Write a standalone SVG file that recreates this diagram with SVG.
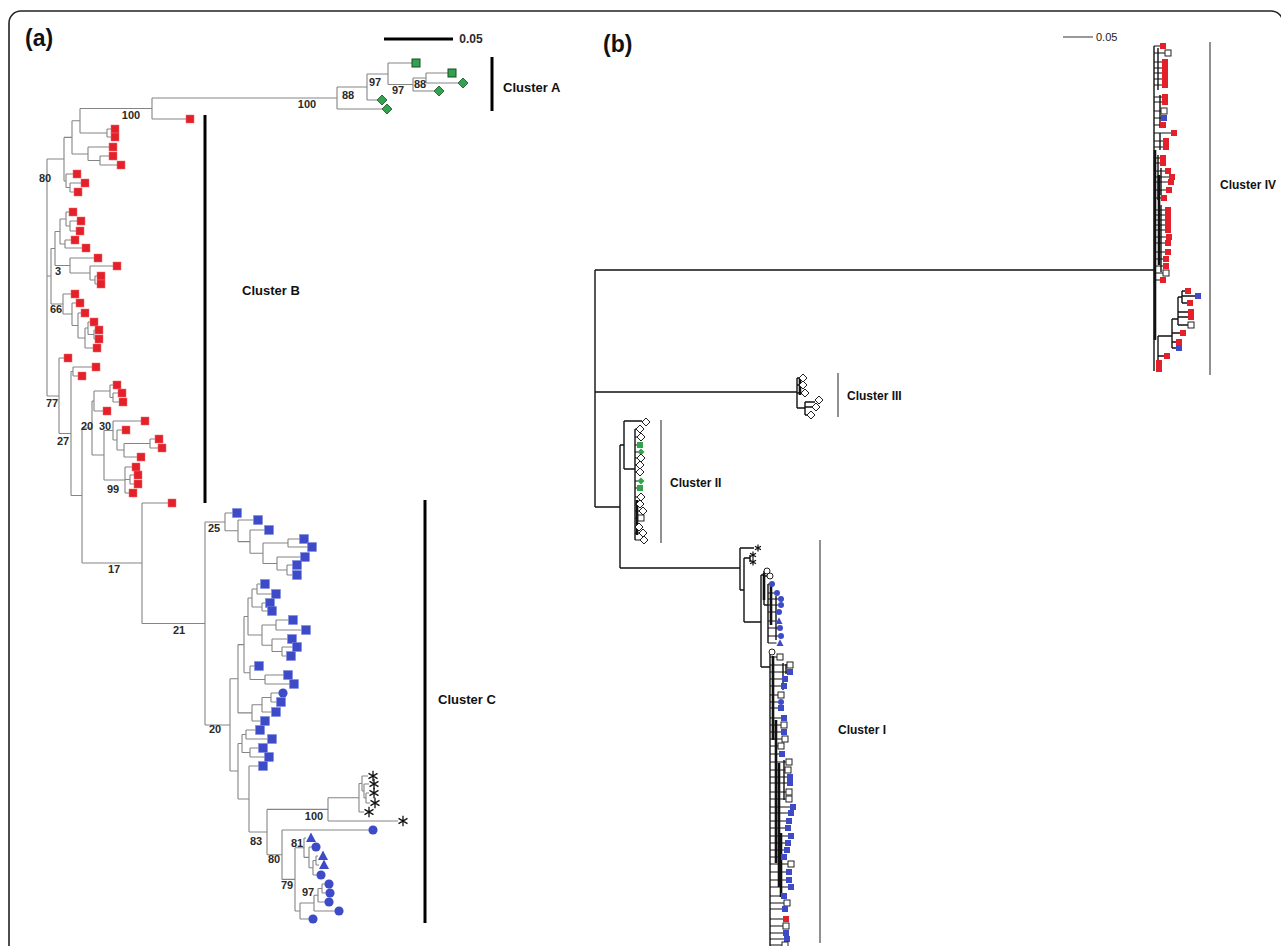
<svg xmlns="http://www.w3.org/2000/svg" xmlns:xlink="http://www.w3.org/1999/xlink" width="1281" height="946" viewBox="0 0 1281 946">
<style>
.ta{fill:none;stroke:#858585;stroke-width:1.1}
.tb{fill:none;stroke:#111;stroke-width:1.4}
.tt{fill:none;stroke:#111;stroke-width:1.1}
.tbk{fill:none;stroke:#111;stroke-width:2.6}
.bara{stroke:#000;stroke-width:3}
.barb{stroke:#555;stroke-width:1.3}
.lab{font-family:"Liberation Sans",Arial,sans-serif;font-weight:bold;font-size:11px;fill:#2a2a2a;text-anchor:middle}
.cla{font-family:"Liberation Sans",Arial,sans-serif;font-weight:bold;font-size:13px;fill:#111}
.clb{font-family:"Liberation Sans",Arial,sans-serif;font-weight:bold;font-size:12px;fill:#111}
.pan{font-family:"Liberation Sans",Arial,sans-serif;font-weight:bold;font-size:23px;fill:#111}
</style>
<defs>
<rect id="ars" x="-4" y="-4" width="8" height="8" fill="#e4202a" stroke="#f06a6a" stroke-width="0.5"/>
<rect id="abs" x="-4.5" y="-4.5" width="9" height="9" fill="#3d4bc8" stroke="#7c86dc" stroke-width="0.5"/>
<circle id="abc" r="4.6" fill="#3d4bc8"/>
<polygon id="abt" points="0,-5.5 5,4 -5,4" fill="#3d4bc8"/>
<rect id="ags" x="-4" y="-4" width="8" height="8" fill="#33a24e" stroke="#1b4d24" stroke-width="1"/>
<polygon id="agd" points="0,-5 5,0 0,5 -5,0" fill="#33a24e" stroke="#1b4d24" stroke-width="0.8"/>
<path id="ast" d="M0,-5.2V5.2M-4.5,-2.6L4.5,2.6M-4.5,2.6L4.5,-2.6" stroke="#111" stroke-width="1.3" fill="none"/>
<rect id="brs" x="-3" y="-3" width="6" height="6" fill="#e4202a"/>
<rect id="bbs" x="-3" y="-3" width="6" height="6" fill="#3d4bc8"/>
<rect id="bos" x="-3" y="-3" width="6" height="6" fill="#fff" stroke="#222" stroke-width="1"/>
<polygon id="bod" points="0,-4 4,0 0,4 -4,0" fill="#fff" stroke="#222" stroke-width="1"/>
<circle id="boc" r="3" fill="#fff" stroke="#222" stroke-width="1"/>
<circle id="bbc" r="3" fill="#3d4bc8"/>
<polygon id="bbt" points="0,-3.8 3.5,3 -3.5,3" fill="#3d4bc8"/>
<rect id="bgs" x="-3" y="-3" width="6" height="6" fill="#33a24e"/>
<polygon id="bgd" points="0,-3.5 3.5,0 0,3.5 -3.5,0" fill="#33a24e"/>
<path id="bst" d="M0,-3.5V3.5M-3,-1.8L3,1.8M-3,1.8L3,-1.8" stroke="#111" stroke-width="1.2" fill="none"/>
</defs>
<rect x="0" y="0" width="1281" height="946" fill="#fff"/>
<rect x="9" y="11" width="1274" height="1000" rx="12" fill="none" stroke="#222" stroke-width="1.6"/>

<g id="panel-a-title">
<text class="pan" x="25" y="46">(a)</text>
<line class="bara" x1="384" y1="39" x2="453" y2="39"/>
<text class="lab" x="471" y="43" style="font-size:12px">0.05</text>
</g>

<g id="connectors-a">
<path class="ta" d="M426,73V83M426,73H448M426,83H458M413,78V91M413,78H426M413,91H434M388,63V84.5M388,63H412M388,84.5H413M367,74V100M367,74H388M367,100H377M337,87V109M337,87H367M337,109H382M152,98V119M152,98H337M152,119H186M80,108.5V133M80,108.5H152M80,133H107M107,129V137M107,129H111M107,137H111M88,147V160.5M88,147H109M88,160.5H100M100,156V165M100,156H109M100,165H117M72,120.75V154M72,120.75H80M72,154H88M70,183V192M70,183H81M70,192H74M66,174V187.5M66,174H73M66,187.5H70M64,137.4V181M64,137.4H72M64,181H66M47,159V396M47,159H64M47,276H51M47,396H59"/>
<path class="ta" d="M70,221V231M70,221H77M70,231H76M66,212V226M66,212H69M66,226H70M65,240V248M65,240H71M65,248H82M60,219V244M60,219H66M60,244H65M95,276V284M95,276H97M95,284H97M90,266V280M90,266H113M90,280H95M70,258V273M70,258H94M70,273H90M55,231.5V265.5M55,231.5H60M55,265.5H70M94,330V339M94,330H95M94,339H95M88,322V334.5M88,322H90M88,334.5H94M85,328V348M85,328H88M85,348H93M78,313V338M78,313H81M78,338H85M72,303V325.5M72,303H76M72,325.5H78M63,294V314M63,294H71M63,314H72M51,248.5V304M51,248.5H55M51,304H63"/>
<path class="ta" d="M73,367V376M73,367H92M73,376H78M113,393V402M113,393H118M113,402H119M110,385V397.5M110,385H113M110,397.5H113M94,391V411M94,391H110M94,411H103M150,439V448M150,439H155M150,448H158M124,443.5V457M124,443.5H150M124,457H137M117,430V450M117,430H122M117,450H124M113,421V440M113,421H141M113,440H117M130,475V484M130,475H134M130,484H134M125,467V493M125,467H132M125,479.5H130M125,493H129M104,430.5V480M104,430.5H113M104,480H125M92,401V455M92,401H94M92,455H104M82,428V563M82,428H92M82,563H142M71,371.5V495.5M71,371.5H73M71,495.5H82M59,358V433.5M59,358H64M59,433.5H71"/>
<path class="ta" d="M288,539V547M288,539H299.5M288,547H307.5M287,565V575M287,565H292.5M287,575H292.5M277,557V570M277,557H300.5M277,570H287M263,543V563.5M263,543H288M263,563.5H277M250,530V553.25M250,530H264.5M250,553.25H263M238,520V541.6M238,520H253.5M238,541.6H250M225,513V530.8M225,513H232.5M225,530.8H238M257,584V594M257,584H260.5M257,594H271.5M262,603V611M262,603H265.5M262,611H267.5M252,589V607M252,589H257M252,607H262M276,620V630M276,620H288.5M276,630H301.5M282,647V656M282,647H292.5M282,656H286.5M272,639V651.5M272,639H287.5M272,651.5H282M262,625V645.25M262,625H276M262,645.25H272M248,598V635M248,598H252M248,635H262M265,675V684M265,675H283.5M265,684H289.5M250,666V679.5M250,666H254.5M250,679.5H265M244,616.5V672.75M244,616.5H248M244,672.75H250M271,693V702M271,693H278.5M271,702H276.5M262,697.5V712M262,697.5H271M262,712H271.5M252,704.75V721M252,704.75H262M252,721H260.5M238,644.6V712.9M238,644.6H244M238,712.9H252M246,730V739M246,730H255.5M246,739H267.5M250,748V757M250,748H258.5M250,757H264.5M242,734.5V752.5M242,734.5H246M242,752.5H250M249,766V832M249,766H258.5M249,832H267M238,743.5V799M238,743.5H242M238,799H249M230,678.75V771M230,678.75H238M230,771H238M205,522V725M205,522H225M205,725H230M142,503V623.5M142,503H168M142,623.5H205"/>
<path class="ta" d="M366,793V803M366,793H369M366,803H370M364,784V798M364,784H369M364,798H366M362,776V791M362,776H368M362,791H364M359,783.5V812M359,783.5H362M359,812H364M328,797.75V821M328,797.75H359M328,821H398M316,856V865M316,856H318M316,865H319M313,860.5V875M313,860.5H316M313,875H316.5M309,847V867.75M309,847H311.5M309,867.75H313M304,838V857.4M304,838H306M304,857.4H309M322,884V893M322,884H324.5M322,893H325.5M318,888.5V902M318,888.5H322M318,902H324.5M314,895.25V911M314,895.25H318M314,911H334.5M300,903V919M300,903H314M300,919H308.5M295,847.7V911M295,847.7H304M295,911H300M282,830V879.4M282,830H368.5M282,879.4H295M267,809.4V854.7M267,809.4H328M267,854.7H282"/>
</g>

<g id="a-cluster-A">
<use href="#ags" x="416" y="63"/><use href="#ags" x="452" y="73"/><use href="#agd" x="463" y="83"/><use href="#agd" x="439" y="91"/><use href="#agd" x="382" y="100"/><use href="#agd" x="387" y="109"/>
<line class="bara" x1="492" y1="57" x2="492" y2="111"/>
<text class="cla" x="503" y="92">Cluster A</text>
</g>

<g id="a-cluster-B">
<use href="#ars" x="190" y="119"/><use href="#ars" x="115" y="129"/><use href="#ars" x="115" y="137"/><use href="#ars" x="113" y="147"/><use href="#ars" x="113" y="156"/><use href="#ars" x="121" y="165"/><use href="#ars" x="77" y="174"/><use href="#ars" x="85" y="183"/><use href="#ars" x="78" y="192"/>
<use href="#ars" x="73" y="212"/><use href="#ars" x="81" y="221"/><use href="#ars" x="80" y="231"/><use href="#ars" x="75" y="240"/><use href="#ars" x="86" y="248"/><use href="#ars" x="98" y="258"/><use href="#ars" x="117" y="266"/><use href="#ars" x="101" y="276"/><use href="#ars" x="101" y="284"/>
<use href="#ars" x="75" y="294"/><use href="#ars" x="80" y="303"/><use href="#ars" x="85" y="313"/><use href="#ars" x="94" y="322"/><use href="#ars" x="99" y="330"/><use href="#ars" x="99" y="339"/><use href="#ars" x="97" y="348"/>
<use href="#ars" x="68" y="358"/><use href="#ars" x="96" y="367"/><use href="#ars" x="82" y="376"/><use href="#ars" x="117" y="385"/><use href="#ars" x="122" y="393"/><use href="#ars" x="123" y="402"/><use href="#ars" x="107" y="411"/>
<use href="#ars" x="145" y="421"/><use href="#ars" x="126" y="430"/><use href="#ars" x="159" y="439"/><use href="#ars" x="162" y="448"/><use href="#ars" x="141" y="457"/><use href="#ars" x="136" y="467"/><use href="#ars" x="138" y="475"/><use href="#ars" x="138" y="484"/><use href="#ars" x="133" y="493"/><use href="#ars" x="172" y="503"/>
<line class="bara" x1="205" y1="115" x2="205" y2="503"/>
<text class="cla" x="242" y="295">Cluster B</text>
</g>

<g id="a-cluster-C">
<use href="#abs" x="237" y="513"/><use href="#abs" x="258" y="520"/><use href="#abs" x="269" y="530"/><use href="#abs" x="304" y="539"/><use href="#abs" x="312" y="547"/><use href="#abs" x="305" y="557"/><use href="#abs" x="297" y="565"/><use href="#abs" x="297" y="575"/>
<use href="#abs" x="265" y="584"/><use href="#abs" x="276" y="594"/><use href="#abs" x="270" y="603"/><use href="#abs" x="272" y="611"/><use href="#abs" x="293" y="620"/><use href="#abs" x="306" y="630"/><use href="#abs" x="292" y="639"/><use href="#abs" x="297" y="647"/><use href="#abs" x="291" y="656"/>
<use href="#abs" x="259" y="666"/><use href="#abs" x="288" y="675"/><use href="#abs" x="294" y="684"/><use href="#abc" x="283" y="693"/><use href="#abs" x="281" y="702"/><use href="#abs" x="276" y="712"/><use href="#abs" x="265" y="721"/>
<use href="#abs" x="260" y="730"/><use href="#abs" x="272" y="739"/><use href="#abs" x="263" y="748"/><use href="#abs" x="269" y="757"/><use href="#abs" x="263" y="766"/>
<use href="#ast" x="373" y="776"/><use href="#ast" x="374" y="784"/><use href="#ast" x="374" y="793"/><use href="#ast" x="375" y="803"/><use href="#ast" x="369" y="812"/><use href="#ast" x="403" y="821"/>
<use href="#abc" x="373" y="830"/><use href="#abt" x="311" y="838"/><use href="#abc" x="316" y="847"/><use href="#abt" x="323" y="856"/><use href="#abt" x="324" y="865"/><use href="#abc" x="321" y="875"/><use href="#abc" x="329" y="884"/><use href="#abc" x="330" y="893"/><use href="#abc" x="329" y="902"/><use href="#abc" x="339" y="911"/><use href="#abc" x="313" y="919"/>
<line class="bara" x1="425" y1="500" x2="425" y2="923"/>
<text class="cla" x="438" y="704">Cluster C</text>
</g>

<g id="a-support-values">
<text class="lab" x="131" y="119">100</text><text class="lab" x="307" y="108">100</text><text class="lab" x="348" y="99">88</text><text class="lab" x="375" y="86">97</text><text class="lab" x="398" y="94">97</text><text class="lab" x="420" y="88">88</text>
<text class="lab" x="45" y="182">80</text><text class="lab" x="58" y="275">3</text><text class="lab" x="56" y="313">66</text><text class="lab" x="52" y="407">77</text><text class="lab" x="63" y="445">27</text><text class="lab" x="87" y="430">20</text><text class="lab" x="105" y="430">30</text><text class="lab" x="113" y="493">99</text>
<text class="lab" x="114" y="573">17</text><text class="lab" x="214" y="532">25</text><text class="lab" x="179" y="634">21</text><text class="lab" x="215" y="733">20</text><text class="lab" x="314" y="820">100</text><text class="lab" x="256" y="845">83</text><text class="lab" x="274" y="863">80</text><text class="lab" x="297" y="847">81</text><text class="lab" x="287" y="889">79</text><text class="lab" x="308" y="896">97</text>
</g>

<g id="panel-b-title">
<text class="pan" x="603" y="52">(b)</text>
<line x1="1063" y1="37" x2="1093" y2="37" stroke="#555" stroke-width="1.2"/>
<text x="1096" y="41" style="font-family:'Liberation Sans',Arial,sans-serif;font-size:11px;fill:#222">0.05</text>
</g>

<g id="connectors-b">
<path class="tb" d="M595,270V507M595,270H1154M595,392H797M595,507H620M620,445V568M620,445H624M624,421V469M624,421H642M624,469H635M635,429V540"/>
<path class="tt" d="M635,429H636M635,437H637M635,445H637M635,452H638M635,458H637M635,465H636M635,472H636M635,481H638M635,488H637M635,497H637M635,504H636M635,511H639M635,518H638M635,533H639M635,540H640"/>
<path class="tbk" d="M637,500V535M800,378V395"/>
<path class="tb" d="M797,378V408M797,378H799M797,385H799M797,393H801M797,408H805M805,402V415M805,402H815M805,407H812M805,415H807"/>
<path class="tb" d="M620,568H740M740,548V590M740,548H754M740,590H744M744,558V622M744,558H750M750,555V562M744,622H761M761,575V667M761,575H764M764,571V605M764,576H767M764,605H768M768,584V643M761,667H770M770,652V946"/>
<path class="tt" d="M768,584H769M768,593H774M768,599H778M768,605H778M768,612H776M768,621H775.5M768,628H777M768,636H778M768,643H776.5M770,657H777M770,665H787M770,672H787M770,679H782M770,686H781M770,695H778M770,702H778M770,708H778M770,718H781M770,725H781M770,732H781M770,739H782M770,746H778M770,754H779M770,762H786M770,770H785M770,777H787M770,783H787M770,792H786M770,799H786M770,807H790M770,813H788M770,821H786M770,828H785M770,836H788M770,843H785M770,850H784M770,857H781M770,864H788M770,872H786M770,880H786M770,887H788M770,896H781M770,903H784M770,909H782M770,919H783M770,926H783M770,933H783M770,939H784M770,945H782"/>
<path class="tbk" d="M764,573V600M771,586V625M773,656V740M776,720V863M779,763V887M781,833V897"/>
<path class="tb" d="M783,663V690M776,596V640M784,760V800M786,664V674"/>
<path class="tb" d="M1154,46V371"/>
<path class="tt" d="M1154,46H1160M1154,53H1165M1154,62H1162M1154,68H1162M1154,73H1162M1154,79H1162M1154,85H1162M1154,97H1162M1154,102H1162M1154,111H1161M1154,118H1161M1154,125H1160M1154,133H1171M1154,141H1163M1154,147H1163M1154,158H1160M1154,163H1160M1154,171H1165M1154,177H1169M1154,182H1168M1154,190H1166M1154,198H1161M1154,210H1165M1154,215H1165M1154,220H1165M1154,225H1165M1154,230H1165M1154,237H1166M1154,243H1165M1154,252H1165M1154,259H1163M1154,266H1163M1154,273H1163M1154,280H1160"/>
<path class="tb" d="M1158,48V90M1160,95V128M1160,133V150M1158,155V200M1161,168V195M1161,205V272M1158,336V368M1158,336H1172M1158,356H1164M1172,319V348M1172,319H1178M1172,333H1180M1172,342H1176M1172,348H1176M1178,297V325M1178,297H1182M1178,312H1188M1178,317H1188M1178,325H1188M1182,291V303M1182,291H1185M1182,296H1195M1182,303H1187"/>
<path class="tbk" d="M1155,150V340M1159,175V265"/>
</g>

<g id="b-cluster-IV">
<use href="#brs" x="1163" y="46"/><use href="#bos" x="1168" y="53"/><use href="#brs" x="1165" y="62"/><use href="#brs" x="1165" y="68"/><use href="#brs" x="1165" y="73"/><use href="#brs" x="1165" y="79"/><use href="#brs" x="1165" y="85"/><use href="#brs" x="1165" y="97"/><use href="#brs" x="1165" y="102"/><use href="#bos" x="1164" y="111"/><use href="#bbs" x="1164" y="118"/><use href="#brs" x="1163" y="125"/>
<use href="#brs" x="1174" y="133"/><use href="#brs" x="1166" y="141"/><use href="#brs" x="1166" y="147"/><use href="#brs" x="1163" y="158"/><use href="#brs" x="1163" y="163"/><use href="#brs" x="1168" y="171"/><use href="#brs" x="1172" y="177"/><use href="#brs" x="1171" y="182"/><use href="#brs" x="1169" y="190"/><use href="#brs" x="1164" y="198"/>
<use href="#brs" x="1168" y="210"/><use href="#brs" x="1168" y="215"/><use href="#brs" x="1168" y="220"/><use href="#brs" x="1168" y="225"/><use href="#brs" x="1168" y="230"/><use href="#brs" x="1169" y="237"/><use href="#brs" x="1168" y="243"/><use href="#brs" x="1168" y="252"/><use href="#brs" x="1166" y="259"/><use href="#brs" x="1166" y="266"/><use href="#bos" x="1166" y="273"/><use href="#brs" x="1163" y="280"/>
<use href="#brs" x="1188" y="291"/><use href="#bbs" x="1198" y="296"/><use href="#brs" x="1190" y="303"/><use href="#brs" x="1191" y="312"/><use href="#brs" x="1191" y="317"/><use href="#bos" x="1191" y="325"/><use href="#brs" x="1183" y="333"/><use href="#brs" x="1179" y="342"/><use href="#bbs" x="1179" y="348"/><use href="#brs" x="1167" y="356"/><use href="#brs" x="1159" y="363"/><use href="#brs" x="1159" y="369"/>
<line class="barb" x1="1210" y1="42" x2="1210" y2="375"/>
<text class="clb" x="1220" y="189">Cluster IV</text>
</g>

<g id="b-cluster-III">
<use href="#bod" x="803" y="378"/><use href="#bod" x="803" y="385"/><use href="#bod" x="805" y="393"/><use href="#bod" x="819" y="400"/><use href="#bod" x="816" y="407"/><use href="#bod" x="811" y="415"/>
<line class="barb" x1="838" y1="373" x2="838" y2="417"/>
<text class="clb" x="847" y="400">Cluster III</text>
</g>

<g id="b-cluster-II">
<use href="#bod" x="646" y="422"/><use href="#bod" x="640" y="429"/><use href="#bod" x="641" y="437"/><use href="#bgs" x="640" y="445"/><use href="#bgd" x="641" y="452"/><use href="#bod" x="641" y="458"/><use href="#bod" x="640" y="465"/><use href="#bod" x="640" y="472"/><use href="#bgd" x="641" y="481"/><use href="#bgs" x="640" y="488"/><use href="#bod" x="641" y="497"/><use href="#bod" x="640" y="504"/><use href="#bod" x="643" y="511"/><use href="#bos" x="641" y="518"/><use href="#bod" x="639" y="527"/><use href="#bod" x="643" y="533"/><use href="#bod" x="644" y="540"/>
<line class="barb" x1="661" y1="420" x2="661" y2="543"/>
<text class="clb" x="670" y="487">Cluster II</text>
</g>

<g id="b-cluster-I">
<use href="#bst" x="758" y="548"/><use href="#bst" x="753" y="555"/><use href="#bst" x="753" y="562"/>
<use href="#boc" x="767" y="571"/><use href="#boc" x="770" y="576"/><use href="#bbc" x="772" y="584"/><use href="#bbc" x="777" y="593"/><use href="#bbc" x="781" y="599"/><use href="#bbc" x="781" y="605"/><use href="#bbc" x="779" y="612"/><use href="#bbt" x="779" y="621"/><use href="#bbc" x="780" y="628"/><use href="#bbc" x="781" y="636"/><use href="#bbt" x="780" y="643"/>
<use href="#boc" x="772" y="652"/><use href="#bos" x="780" y="657"/><use href="#bos" x="790" y="665"/><use href="#bbs" x="790" y="672"/><use href="#bbs" x="785" y="679"/><use href="#bbs" x="784" y="686"/><use href="#bos" x="781" y="695"/><use href="#bbc" x="781" y="702"/><use href="#bbs" x="781" y="708"/><use href="#bbs" x="784" y="718"/><use href="#bos" x="784" y="725"/><use href="#bbs" x="784" y="732"/><use href="#bos" x="785" y="739"/><use href="#bos" x="781" y="746"/><use href="#bbs" x="782" y="754"/>
<use href="#bos" x="789" y="762"/><use href="#bos" x="788" y="770"/><use href="#bbs" x="790" y="777"/><use href="#bbs" x="790" y="783"/><use href="#bos" x="789" y="792"/><use href="#bos" x="789" y="799"/><use href="#bbs" x="793" y="807"/><use href="#bbs" x="791" y="813"/><use href="#bbs" x="789" y="821"/><use href="#bbs" x="788" y="828"/><use href="#bbs" x="791" y="836"/><use href="#bbs" x="788" y="843"/><use href="#bbs" x="787" y="850"/><use href="#bbs" x="784" y="857"/>
<use href="#bos" x="791" y="864"/><use href="#bbs" x="789" y="872"/><use href="#bbs" x="789" y="880"/><use href="#bbs" x="791" y="887"/><use href="#bbs" x="784" y="896"/><use href="#bos" x="787" y="903"/><use href="#bbs" x="785" y="909"/><use href="#brs" x="786" y="919"/><use href="#bos" x="786" y="926"/><use href="#bbs" x="786" y="933"/><use href="#bbs" x="787" y="939"/><use href="#bos" x="785" y="945"/>
<line class="barb" x1="820" y1="540" x2="820" y2="943"/>
<text class="clb" x="838" y="734">Cluster I</text>
</g>
</svg>
